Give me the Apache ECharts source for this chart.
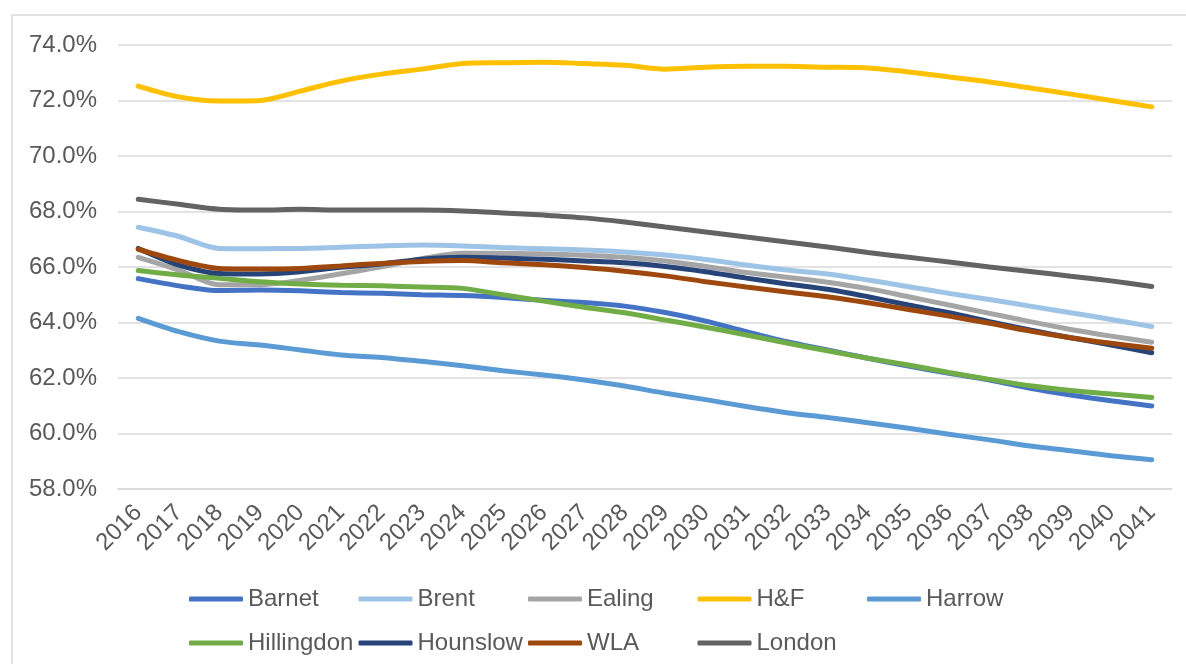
<!DOCTYPE html>
<html>
<head>
<meta charset="utf-8">
<script src="https://cdn.jsdelivr.net/npm/echarts@6/dist/echarts.min.js"></script>
<style>
  html, body { margin: 0; padding: 0; background: #fff; }
  #chart { width: 1186px; height: 664px; }
</style>
</head>
<body>
<div id="chart"></div>
<script>
var years = ['2016','2017','2018','2019','2020','2021','2022','2023','2024','2025','2026','2027','2028',
             '2029','2030','2031','2032','2033','2034','2035','2036','2037','2038','2039','2040','2041'];

var barnet = [65.58,65.32,65.15,65.17,65.14,65.08,65.05,65.00,64.97,64.90,64.80,64.72,64.59,
              64.36,64.05,63.67,63.31,63.01,62.71,62.43,62.17,61.93,61.63,61.39,61.18,60.99];
var brent = [67.43,67.10,66.67,66.66,66.67,66.71,66.76,66.79,66.76,66.70,66.66,66.61,66.54,
             66.43,66.27,66.07,65.89,65.75,65.53,65.29,65.05,64.83,64.59,64.35,64.11,63.85];
var ealing = [66.35,65.89,65.36,65.36,65.52,65.76,66.01,66.30,66.50,66.50,66.47,66.42,66.35,
              66.22,66.02,65.80,65.63,65.45,65.22,64.93,64.63,64.33,64.03,63.75,63.51,63.29];
var hf = [72.52,72.13,71.98,72.00,72.34,72.70,72.95,73.13,73.33,73.36,73.38,73.33,73.27,
          73.13,73.20,73.23,73.23,73.20,73.17,73.03,72.85,72.67,72.45,72.23,72.00,71.77];
var harrow = [64.15,63.67,63.33,63.19,63.01,62.83,62.74,62.60,62.44,62.26,62.11,61.93,61.71,
              61.45,61.22,60.97,60.75,60.58,60.39,60.19,59.97,59.77,59.55,59.38,59.20,59.05];
var hillingdon = [65.87,65.71,65.59,65.47,65.39,65.34,65.32,65.28,65.23,65.00,64.77,64.55,64.35,
                  64.09,63.83,63.55,63.26,62.98,62.71,62.47,62.20,61.95,61.72,61.55,61.42,61.30];
var hounslow = [66.67,66.07,65.77,65.75,65.83,65.99,66.11,66.28,66.35,66.32,66.28,66.22,66.15,
                66.02,65.83,65.60,65.39,65.20,64.93,64.63,64.35,64.03,63.73,63.45,63.19,62.91];
var wla = [66.64,66.23,65.95,65.93,65.95,66.04,66.13,66.20,66.23,66.15,66.08,65.98,65.85,
           65.68,65.47,65.28,65.10,64.93,64.71,64.47,64.23,63.97,63.69,63.45,63.25,63.07];
var london = [68.44,68.26,68.08,68.05,68.08,68.05,68.05,68.05,68.02,67.95,67.87,67.77,67.62,
              67.44,67.26,67.08,66.90,66.72,66.52,66.35,66.18,66.00,65.84,65.67,65.50,65.30];

var names = ['Barnet','Brent','Ealing','H&F','Harrow','Hillingdon','Hounslow','WLA','London'];
var values = [barnet, brent, ealing, hf, harrow, hillingdon, hounslow, wla, london];
var colors = ['#4472C4','#9DC3E6','#A5A5A5','#FFC000','#5B9BD5','#70AD47','#264478','#9E480E','#636363'];

var font = '"Liberation Sans", Arial, sans-serif';

var chart = echarts.init(document.getElementById('chart'));

var series = [];
for (var i = 0; i < names.length; i++) {
  series.push({
    name: names[i],
    type: 'line',
    data: values[i],
    smooth: 0.3,
    showSymbol: false,
    symbol: 'none',
    lineStyle: { width: 5, color: colors[i], cap: 'round' },
    itemStyle: { color: colors[i] }
  });
}

// one legend per entry so the columns line up like the excel grid
var legends = [];
for (var j = 0; j < names.length; j++) {
  var col = j % 5, row = Math.floor(j / 5);
  legends.push({
    data: [names[j]],
    left: 189 + col * 169.5,
    top: 587 + row * 44,
    icon: 'roundRect',
    itemWidth: 54,
    itemHeight: 5,
    padding: 0,
    textStyle: { fontFamily: font, fontSize: 24, color: '#595959' }
  });
}

option = {
  animation: false,
  backgroundColor: '#fff',
  color: colors,
  graphic: [{
    type: 'rect',
    shape: { x: 12, y: 15, width: 1200, height: 720 },
    style: { fill: 'none', stroke: '#d9d9d9', lineWidth: 1.5 },
    silent: true
  }],
  grid: { left: 118, right: 14, top: 45, bottom: 175, containLabel: false },
  legend: legends,
  xAxis: {
    type: 'category',
    data: years,
    boundaryGap: true,
    axisLine: { show: true, lineStyle: { color: '#d9d9d9', width: 1.5 } },
    axisTick: { show: false },
    axisLabel: { interval: 0, rotate: 45, margin: 20, fontFamily: font, fontSize: 24, color: '#595959' }
  },
  yAxis: {
    type: 'value',
    min: 58,
    max: 74,
    interval: 2,
    axisLine: { show: false },
    axisTick: { show: false },
    axisLabel: {
      margin: 21, fontFamily: font, fontSize: 24, color: '#595959',
      formatter: function (v) { return v.toFixed(1) + '%'; }
    },
    splitLine: { lineStyle: { color: '#d9d9d9', width: 1.5 } }
  },
  series: series
};

chart.setOption(option);
</script>
</body>
</html>
